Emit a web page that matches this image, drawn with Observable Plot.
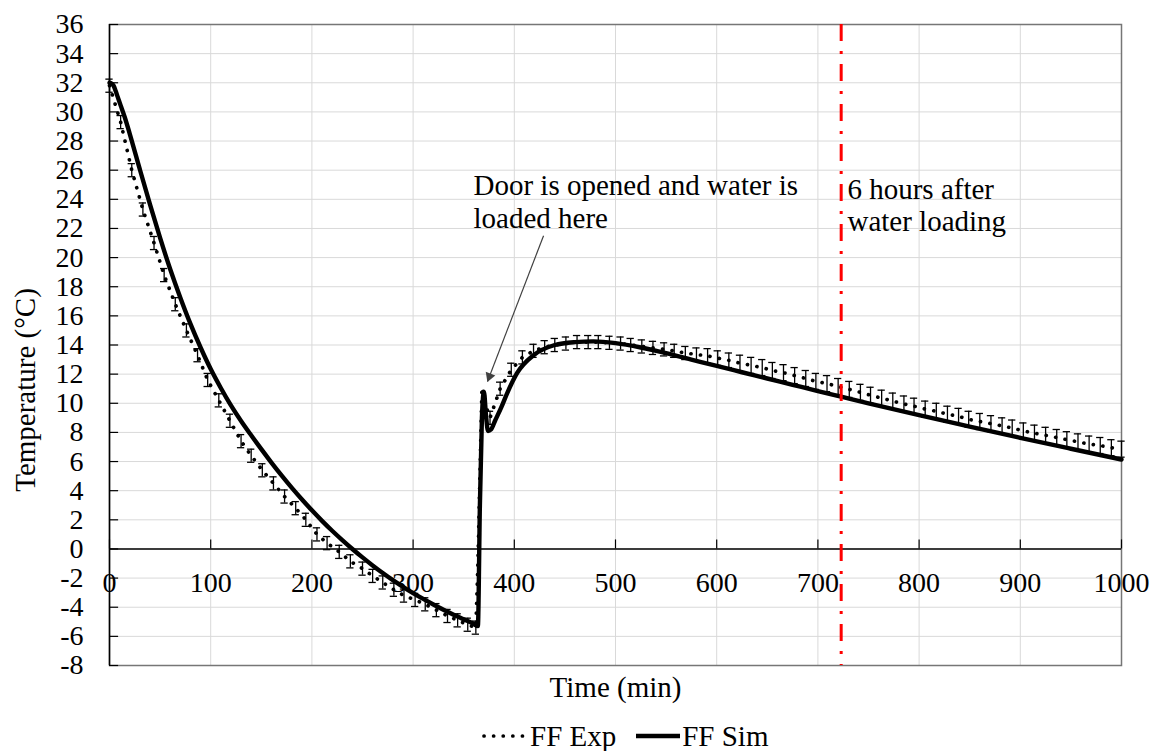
<!DOCTYPE html>
<html>
<head>
<meta charset="utf-8">
<script src="https://cdn.jsdelivr.net/npm/d3@7"></script>
<script src="https://cdn.jsdelivr.net/npm/@observablehq/plot@0.6"></script>
<style>
  body { margin: 0; background: #fff; font-family: "Liberation Serif", "Times New Roman", serif; }
  #chart { position: relative; width: 1162px; height: 751px; overflow: hidden; }
  #legend { position: absolute; left: 481px; top: 719px; display: flex; align-items: center;
            font-size: 29px; line-height: 34px; color: #000; white-space: nowrap; }
  #legend svg { display: block; }
</style>
</head>
<body>
<div id="chart"></div>
<script>
// Freezer-compartment temperature: experiment (mean ± error) and simulation
const expTime = [0, 11, 22, 33, 44, 54, 65, 76, 87, 97,
  108, 119, 130, 140, 151, 162, 173, 184, 194, 205,
  215, 227, 238, 250, 260, 270, 281, 291, 302, 312,
  323, 334, 344, 354, 362,
  364, 366, 368, 372,
  376, 386, 397, 408, 419, 430, 440, 451, 462, 473,
  483, 494, 505, 515, 526, 537, 548, 558, 569, 580,
  591, 601, 612, 623, 634, 645, 655, 666, 677, 688,
  698, 709, 720, 731, 742, 752, 763, 774, 785, 795,
  806, 817, 828, 839, 849, 860, 871, 882, 892, 903,
  914, 925, 936, 946, 957, 968, 979, 990, 1000];
const expTemp = [31.8, 29.3, 26.0, 23.3, 21.0, 18.8, 16.8, 15.0, 13.3, 11.6,
  10.2, 8.8, 7.4, 6.4, 5.4, 4.5, 3.6, 2.8, 2.0, 1.0,
  0.4, -0.2, -0.85, -1.35, -1.85, -2.3, -2.8, -3.2, -3.5, -3.8,
  -4.2, -4.6, -4.9, -5.2, -5.4,
  -1.0, 5.0, 11.1, 9.8,
  9.0, 11.0, 12.3, 13.15, 13.6, 13.85, 14.0, 14.1, 14.2, 14.2,
  14.2, 14.15, 14.1, 14.0, 13.9, 13.8, 13.7, 13.6, 13.45, 13.35,
  13.25, 13.1, 12.95, 12.75, 12.6, 12.45, 12.25, 12.1, 11.9, 11.7,
  11.5, 11.35, 11.15, 10.95, 10.75, 10.55, 10.35, 10.15, 9.95, 9.8,
  9.6, 9.45, 9.25, 9.1, 8.9, 8.75, 8.6, 8.45, 8.3, 8.1,
  7.95, 7.8, 7.65, 7.5, 7.35, 7.2, 7.1, 6.95, 6.85];
const expErr = [0.45, 0.45, 0.45, 0.45, 0.45, 0.45, 0.45, 0.45, 0.45, 0.45,
  0.45, 0.45, 0.45, 0.45, 0.45, 0.45, 0.45, 0.45, 0.45, 0.45,
  0.45, 0.45, 0.45, 0.45, 0.45, 0.45, 0.45, 0.45, 0.45, 0.45,
  0.45, 0.45, 0.45, 0.45, 0.45,
  0, 0, 0, 0,
  0.45, 0.45, 0.45, 0.45, 0.45, 0.45, 0.45, 0.45, 0.45, 0.45,
  0.45, 0.45, 0.45, 0.45, 0.45, 0.45, 0.45, 0.45, 0.45, 0.45,
  0.5, 0.5, 0.5, 0.55, 0.55, 0.55, 0.55, 0.55, 0.55, 0.55,
  0.55, 0.55, 0.55, 0.55, 0.55, 0.55, 0.55, 0.55, 0.55, 0.55,
  0.55, 0.55, 0.55, 0.55, 0.55, 0.55, 0.55, 0.55, 0.55, 0.55,
  0.55, 0.55, 0.55, 0.55, 0.55, 0.55, 0.55, 0.55, 0.55];

const simTime = [0, 2, 4, 6, 8, 11, 15, 20, 30, 40,
  50, 60, 70, 80, 90, 100, 110, 120, 130, 140,
  150, 160, 170, 180, 190, 200, 210, 220, 230, 240,
  250, 260, 270, 280, 290, 300, 310, 320, 330, 340,
  350, 360, 364,
  366, 368, 370, 372, 374, 377, 381, 387, 393, 403,
  419, 440, 460, 478, 500, 525, 550, 575, 600, 625,
  650, 675, 700, 725, 750, 800, 850, 900, 950, 1000];
const simTemp = [32.0, 31.95, 31.8, 31.45, 31.05, 30.45, 29.65, 28.5, 26.05, 23.65,
  21.35, 19.2, 17.25, 15.45, 13.83, 12.35, 11.05, 9.85, 8.78, 7.8,
  6.85, 5.93, 5.05, 4.21, 3.41, 2.65, 1.93, 1.25, 0.61, 0.0,
  -0.58, -1.13, -1.65, -2.14, -2.6, -3.03, -3.43, -3.81, -4.17, -4.51,
  -4.83, -5.15, -5.3,
  3.0, 9.0, 10.8, 9.2, 8.1, 8.2, 8.8, 9.7, 10.7, 12.1,
  13.3, 14.0, 14.2, 14.25, 14.13, 13.83, 13.44, 13.0, 12.56, 12.13,
  11.7, 11.27, 10.84, 10.42, 10.0, 9.18, 8.4, 7.63, 6.88, 6.14];

const seriesNames = ["FF Exp", "FF Sim"];
const xTicks = [0, 100, 200, 300, 400, 500, 600, 700, 800, 900, 1000];
const yTicks = [-8, -6, -4, -2, 0, 2, 4, 6, 8, 10, 12, 14, 16, 18, 20, 22, 24, 26, 28, 30, 32, 34, 36];
const markerTime = 723;   // 6 h after the door opening at ~363 min
const notes = {
  door: ["Door is opened and water is", "loaded here"],
  marker: ["6 hours after", "water loading"]
};

const exp = expTime.map((t, i) => ({t, v: expTemp[i], e: expErr[i]}));
const bars = exp.filter(d => d.e > 0);
const sim = simTime.map((t, i) => ({t, v: simTemp[i]}));

const W = 1162, H = 712;
const font = '"Liberation Serif", "Times New Roman", serif';
const ink = "#000";
const dotDash = "0.1 9.5";
const dotWidth = 3.7;
const simWidth = 4.4;

const chart = Plot.plot({
  width: W,
  height: H,
  marginLeft: 109,
  marginRight: 41,
  marginTop: 24,
  marginBottom: H - 665,
  x: {domain: [0, 1000], axis: null},
  y: {domain: [-8, 36]},
  style: {fontFamily: font, fontSize: "28px", color: ink, background: "#fff", overflow: "visible"},
  marks: [
    Plot.gridX(xTicks, {stroke: "#d9d9d9", strokeOpacity: 1, strokeWidth: 1}),
    Plot.gridY(yTicks, {stroke: "#d9d9d9", strokeOpacity: 1, strokeWidth: 1}),
    Plot.frame({stroke: "#767676", strokeWidth: 1.5}),
    Plot.ruleX([0], {stroke: ink, strokeWidth: 1.5}),
    Plot.ruleY([0], {stroke: ink, strokeWidth: 1.5}),
    // inward tick marks
    Plot.ruleY(yTicks, {y: d => d, x1: 0, x2: 9, stroke: ink, strokeWidth: 1.2}),
    Plot.ruleX(xTicks, {x: d => d, y1: 0, y2: 0.62, stroke: ink, strokeWidth: 1.2}),
    Plot.axisY(yTicks, {tickSize: 0, tickPadding: 26, fontSize: 28, label: null, tickFormat: d => String(d)}),
    Plot.text(xTicks, {x: d => d, y: 0, dy: 34, text: d => String(d), fontSize: 28, fill: ink}),
    // axis titles
    Plot.text(["Time (min)"], {x: 500, y: -8, dy: 22, text: d => d, fontSize: 29, fill: ink}),
    Plot.text(["Temperature (°C)"], {frameAnchor: "left", textAnchor: "middle", dx: -84, dy: 45, rotate: -90, text: d => d, fontSize: 29, fill: ink}),
    // experimental error bars
    Plot.ruleX(bars, {x: "t", y1: d => d.v - d.e, y2: d => d.v + d.e, stroke: ink, strokeWidth: 1.3}),
    Plot.ruleY(bars, {y: d => d.v + d.e, x1: d => d.t - 3.6, x2: d => d.t + 3.6, stroke: ink, strokeWidth: 1.3}),
    Plot.ruleY(bars, {y: d => d.v - d.e, x1: d => d.t - 3.6, x2: d => d.t + 3.6, stroke: ink, strokeWidth: 1.3}),
    // experimental series (round-dot line)
    Plot.line(exp, {x: "t", y: "v", stroke: ink, strokeWidth: dotWidth, strokeDasharray: dotDash, strokeLinecap: "round"}),
    // simulation
    Plot.line(sim, {x: "t", y: "v", stroke: ink, strokeWidth: simWidth, curve: "monotone-x", strokeLinejoin: "round"}),
    // 6 h marker
    Plot.ruleX([markerTime], {stroke: "#ff0000", strokeWidth: 3, strokeDasharray: "17,10,3,10"}),
    // annotations
    Plot.text(notes.door, {x: 359.7, y: (d, i) => i === 0 ? 24.9 : 22.7, text: d => d, textAnchor: "start", fontSize: 29, fill: ink}),
    Plot.text(notes.marker, {x: 729.2, y: (d, i) => i === 0 ? 24.63 : 22.44, text: d => d, textAnchor: "start", fontSize: 29, fill: ink}),
    Plot.link([notes.door], {x1: 428.9, y1: 21.5, x2: 373.5, y2: 11.5, stroke: "#404040", strokeWidth: 1.2}),
    Plot.dot([notes.door], {x: 373.5, y: 11.5, dx: 2, dy: -5, symbol: "triangle", r: 3.8, rotate: 200.7, fill: "#404040", stroke: "none"})
  ]
});

const root = document.getElementById("chart");
root.appendChild(chart);

// legend below the plot
const legend = document.createElement("div");
legend.id = "legend";
legend.innerHTML =
  `<svg width="48" height="12"><line x1="3" y1="6" x2="45" y2="6" stroke="${ink}" stroke-width="${dotWidth}" stroke-dasharray="${dotDash}" stroke-linecap="round"/></svg>` +
  `<span style="margin-left:1px">${seriesNames[0]}</span>` +
  `<svg width="46" height="12" style="margin-left:20px"><line x1="0" y1="6" x2="44" y2="6" stroke="${ink}" stroke-width="${simWidth}"/></svg>` +
  `<span style="margin-left:0px">${seriesNames[1]}</span>`;
root.appendChild(legend);
</script>
</body>
</html>
